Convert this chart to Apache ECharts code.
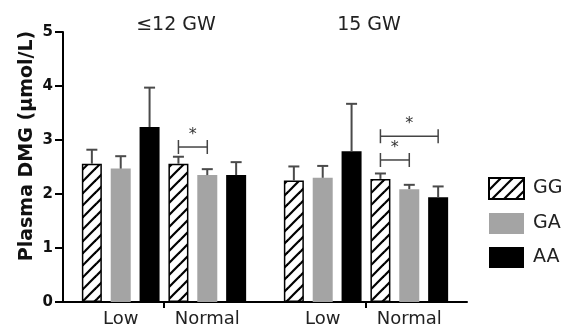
<!DOCTYPE html>
<html><head><meta charset="utf-8">
<script src="https://cdn.jsdelivr.net/npm/echarts@6/dist/echarts.min.js"></script>
<style>html,body{margin:0;padding:0;background:#fff}#c{width:563px;height:334px}</style>
</head><body><div id="c"></div>
<script>
// ---- data ----
const groups = ['≤12 GW', '15 GW'];
const levels = ['Low', 'Normal'];
const genotypes = ['GG', 'GA', 'AA'];
// cluster order: [≤12 Low, ≤12 Normal, 15 Low, 15 Normal]
const meanGG = [2.56, 2.56, 2.25, 2.28];
const meanGA = [2.47, 2.35, 2.30, 2.09];
const meanAA = [3.24, 2.35, 2.79, 1.94];
const semGG = [0.26, 0.13, 0.26, 0.10];
const semGA = [0.23, 0.11, 0.22, 0.08];
const semAA = [0.73, 0.24, 0.88, 0.20];
const yMin = 0, yMax = 5, yStep = 1;
// significance brackets: group, level, genotype from/to, bracket height (µmol/L)
const sigGroup = [0, 1, 1];
const sigLevel = [1, 1, 1];
const sigFrom = [0, 0, 0];
const sigTo = [1, 1, 2];
const sigY = [2.87, 2.63, 3.07];

// ---- structure ----
const means = [meanGG, meanGA, meanAA];
const sems = [semGG, semGA, semAA];
const perGroup = levels.length * genotypes.length + 1;
function slot(g, l, k) { return 1 + g * perGroup + l * genotypes.length + k; }
const nSlots = groups.length * perGroup;

const tickVals = [], labelVals = [], labelMap = {};
groups.forEach((g, gi) => {
  tickVals.push((slot(gi, 0, genotypes.length - 1) + slot(gi, 1, 0)) / 2);
  levels.forEach((l, li) => { const v = slot(gi, li, 1); labelVals.push(v); labelMap[v] = l; });
});

// hatch pattern
const pc = document.createElement('canvas');
pc.width = 12; pc.height = 12;
const ctx = pc.getContext('2d');
ctx.fillStyle = '#fff'; ctx.fillRect(0, 0, 12, 12);
ctx.strokeStyle = '#000'; ctx.lineWidth = 2.2;
[0, 12, 24].forEach(c => { ctx.beginPath(); ctx.moveTo(c + 1, -1); ctx.lineTo(-1, c + 1); ctx.stroke(); });

const styles = [
  { color: { image: pc, repeat: 'repeat' }, borderColor: '#000', borderWidth: 1.5 },
  { color: '#a4a4a4', borderColor: '#a4a4a4', borderWidth: 0 },
  { color: '#000', borderColor: '#000', borderWidth: 0 }
];

const barSeries = genotypes.map((name, k) => ({
  name, type: 'bar', barWidth: 20, barGap: '-100%', z: 2,
  itemStyle: styles[k],
  data: means[k].map((v, c) => [slot(Math.floor(c / 2), c % 2, k), v])
}));

const errData = [];
genotypes.forEach((name, k) => means[k].forEach((v, c) => errData.push([slot(Math.floor(c / 2), c % 2, k), v, sems[k][c]])));

const sigData = sigGroup.map((g, i) => [slot(g, sigLevel[i], sigFrom[i]), slot(g, sigLevel[i], sigTo[i]), sigY[i]]);

const chart = echarts.init(document.getElementById('c'), null, { renderer: 'canvas' });
const FONT = 'DejaVu Sans';
chart.setOption({
  animation: false,
  backgroundColor: '#fff',
  grid: { left: 63, right: 96, top: 32, bottom: 32 },
  xAxis: {
    type: 'value', min: 0, max: nSlots,
    splitLine: { show: false },
    axisLine: { show: true, onZero: false, lineStyle: { color: '#000', width: 2 } },
    axisTick: { show: true, customValues: tickVals, length: 6, lineStyle: { color: '#000', width: 2 } },
    axisLabel: { customValues: labelVals, formatter: v => labelMap[v] || '', fontFamily: FONT, fontSize: 18, color: '#222', margin: 8 }
  },
  yAxis: {
    type: 'value', min: yMin, max: yMax, interval: yStep,
    splitLine: { show: false },
    axisLine: { show: true, lineStyle: { color: '#000', width: 2 } },
    axisTick: { show: true, length: 8, lineStyle: { color: '#000', width: 2 } },
    axisLabel: { fontFamily: FONT, fontWeight: 'bold', fontSize: 15, color: '#111', margin: 10 }
  },
  legend: {
    data: genotypes, orient: 'vertical', left: 483, top: 172,
    itemWidth: 35, itemHeight: 21, itemGap: 13, icon: 'rect',
    textStyle: { fontFamily: FONT, fontSize: 19, color: '#222', padding: [0, 0, 0, 4] }
  },
  graphic: [
    { type: 'text', x: 27, y: 146, rotation: Math.PI / 2,
      style: { text: 'Plasma DMG (μmol/L)', font: 'bold 19px "DejaVu Sans"', fill: '#111', textAlign: 'center', textVerticalAlign: 'middle' } },
    { type: 'text', x: 176, y: 25,
      style: { text: groups[0], font: '19px "DejaVu Sans"', fill: '#222', textAlign: 'center', textVerticalAlign: 'middle' } },
    { type: 'text', x: 369, y: 25,
      style: { text: groups[1], font: '19px "DejaVu Sans"', fill: '#222', textAlign: 'center', textVerticalAlign: 'middle' } }
  ],
  series: barSeries.concat([
    {
      type: 'custom', z: 3, encode: { x: 0, y: 1 }, data: errData,
      renderItem(params, api) {
        const x = api.value(0), m = api.value(1), s = api.value(2);
        const p0 = api.coord([x, m]), p1 = api.coord([x, m + s]);
        const st = { stroke: '#4a4a4a', lineWidth: 2 };
        return { type: 'group', children: [
          { type: 'line', shape: { x1: p0[0], y1: p0[1], x2: p1[0], y2: p1[1] }, style: st },
          { type: 'line', shape: { x1: p1[0] - 5.5, y1: p1[1], x2: p1[0] + 5.5, y2: p1[1] }, style: st }
        ] };
      }
    },
    {
      type: 'custom', z: 3, encode: { x: [0, 1], y: 2 }, data: sigData,
      renderItem(params, api) {
        const a = api.coord([api.value(0), api.value(2)]), b = api.coord([api.value(1), api.value(2)]);
        const st = { stroke: '#444', lineWidth: 1.5 };
        return { type: 'group', children: [
          { type: 'line', shape: { x1: a[0], y1: a[1], x2: b[0], y2: b[1] }, style: st },
          { type: 'line', shape: { x1: a[0], y1: a[1] - 7, x2: a[0], y2: a[1] + 7 }, style: st },
          { type: 'line', shape: { x1: b[0], y1: b[1] - 7, x2: b[0], y2: b[1] + 7 }, style: st },
          { type: 'text', x: (a[0] + b[0]) / 2, y: a[1] - 12,
            style: { text: '*', font: '16px "DejaVu Sans"', fill: '#333', textAlign: 'center', textVerticalAlign: 'middle' } }
        ] };
      }
    }
  ])
});
</script></body></html>
